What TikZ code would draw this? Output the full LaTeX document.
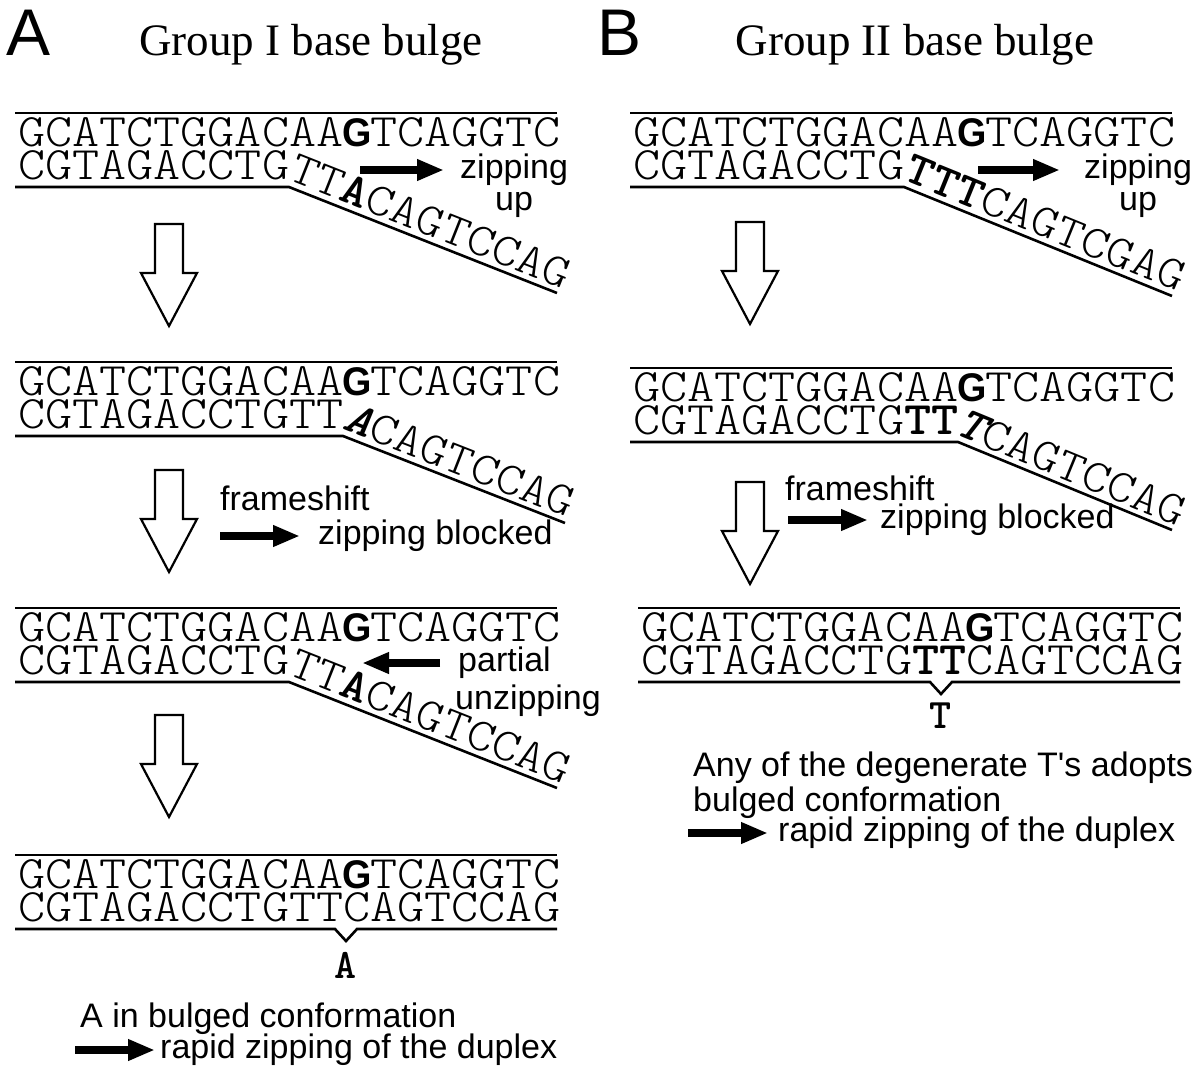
\documentclass[tikz,border=0pt]{standalone}
\usepackage{fontspec}
\usepackage{graphicx}
\setmainfont{Liberation Sans}
\newfontfamily\titlefont{Liberation Serif}
\newfontfamily\seqfont{lmmonolt10-regular}[Extension=.otf]
\newfontfamily\seqbold{lmmonolt10-bold}[Extension=.otf]
\newfontfamily\seqboldsl{lmmonolt10-bold}[Extension=.otf, FakeSlant=0.25]
\usetikzlibrary{positioning, arrows.meta}

% sequence letters, stretched to the pitch of the figure
\newcommand{\sq}[1]{\scalebox{1.11}[1]{#1}}
\newcommand{\bG}{\makebox[0.525em]{\fontsize{40}{40}\rmfamily\bfseries\scalebox{0.85}[1]{G}}}
\newcommand{\bA}{{\seqbold A}}
\newcommand{\bT}{{\seqbold T}}
\newcommand{\bAs}{{\seqboldsl A}}
\newcommand{\bTs}{{\seqboldsl T}}

\begin{document}
\begin{tikzpicture}[x=1pt, y=-1pt,
seq/.style = {inner sep=0pt, anchor=base west, font=\seqfont\fontsize{46.5}{50}\selectfont},
tail/.style = {inner xsep=0pt, inner ysep=7pt, anchor=south west, xshift=-5pt, font=\seqfont\fontsize{46.5}{50}\selectfont},
strand/.style = {line width=2.6pt, line join=miter},
fat/.style = {line width=8pt, -{Triangle[length=27pt, width=20pt]}},
lbl/.style = {inner sep=0pt, font=\fontsize{34}{38}\selectfont},
bulge/.style = {inner sep=0pt, font=\seqbold\fontsize{42}{42}\selectfont},
hollow/.style = {draw, line width=2.2pt, fill=white},
bigdown/.pic = {\draw[hollow] (-14,0) -- (14,0) -- (14,49) -- (28,49) -- (0,102) -- (-28,49) -- (-14,49) -- cycle;}]
\useasboundingbox (0,0) rectangle (1200,1072);

% headings
\node[anchor=base west, inner sep=0pt, font=\fontsize{66}{66}\selectfont] (panA) at (6,55) {A};
\node[anchor=base, inner sep=0pt, font=\titlefont\fontsize{45}{50}\selectfont] (titA) at (311,55) {Group I base bulge};
\node[anchor=base west, inner sep=0pt, font=\fontsize{66}{66}\selectfont] (panB) at (597,55) {B};
\node[anchor=base, inner sep=0pt, font=\titlefont\fontsize{45}{50}\selectfont] (titB) at (915,55) {Group II base bulge};

%%% panel A
% step 1
\draw[strand] (15,113) -- (557,113);
\node[seq] (topA1) at (18,146) {\sq{GCATCTGGACAA\bG TCAGGTC}};
\node[seq] (botA1) at (18,179) {\sq{CGTAGACCTG}};
\draw[strand] (15,187) -- (289,187) -- (557,293);
\node[tail, rotate=-21.6] (tailA1) at (289,187) {\sq{TT\bA CAGTCCAG}};
\coordinate (zA1s) at (360,170);
\coordinate (zA1e) at (444,170);
\draw[fat] (zA1s) -- (zA1e);
\node[lbl, right=16pt of zA1e] (zipA1) {zipping};
\node[lbl, below=6pt of zipA1] (upA1) {up};
\pic (dnA1) at (169,224) {bigdown};

% step 2
\draw[strand] (15,362) -- (557,362);
\node[seq] (topA2) at (18,395) {\sq{GCATCTGGACAA\bG TCAGGTC}};
\node[seq] (botA2) at (18,428) {\sq{CGTAGACCTGTT}};
\draw[strand] (15,436) -- (343,436) -- (565,523);
\node[tail, rotate=-21.4] (tailA2) at (343,436) {\sq{\bAs CAGTCCAG}};
\pic (dnA2) at (169,470) {bigdown};
\node[lbl, anchor=base west] (frA2) at (220,510) {frameshift};
\coordinate (fA2s) at (220,536);
\coordinate (fA2e) at (300,536);
\draw[fat] (fA2s) -- (fA2e);
\node[lbl, right=18pt of fA2e] (blkA2) {zipping blocked};

% step 3
\draw[strand] (15,608) -- (557,608);
\node[seq] (topA3) at (18,641) {\sq{GCATCTGGACAA\bG TCAGGTC}};
\node[seq] (botA3) at (18,674) {\sq{CGTAGACCTG}};
\draw[strand] (15,682) -- (289,682) -- (557,788);
\node[tail, rotate=-21.6] (tailA3) at (289,682) {\sq{TT\bA CAGTCCAG}};
\coordinate (uA3s) at (440,663);
\coordinate (uA3e) at (362,663);
\draw[fat] (uA3s) -- (uA3e);
\node[lbl, right=18pt of uA3s] (partA3) {partial};
\node[lbl, below=6pt of partA3.south west, anchor=north west, xshift=-3pt] (unzA3) {unzipping};
\pic (dnA3) at (169,715) {bigdown};

% step 4
\draw[strand] (15,855) -- (557,855);
\node[seq] (topA4) at (18,888) {\sq{GCATCTGGACAA\bG TCAGGTC}};
\node[seq] (botA4) at (18,921) {\sq{CGTAGACCTGTTCAGTCCAG}};
\draw[strand] (15,929) -- (335,929) -- (346,941) -- (357,929) -- (557,929);
\node[bulge] (bulA4) at (346,965) {A};
\node[lbl, anchor=base west] (txtA4) at (80,1027) {A in bulged conformation};
\coordinate (rA4s) at (75,1050);
\coordinate (rA4e) at (155,1050);
\draw[fat] (rA4s) -- (rA4e);
\node[lbl, right=5pt of rA4e] (rapA4) {rapid zipping of the duplex};

%%% panel B
% step 1
\draw[strand] (630,113) -- (1172,113);
\node[seq] (topB1) at (633,146) {\sq{GCATCTGGACAA\bG TCAGGTC}};
\node[seq] (botB1) at (633,179) {\sq{CGTAGACCTG}};
\draw[strand] (630,187) -- (904,187) -- (1172,296);
\node[tail, rotate=-22.1] (tailB1) at (904,187) {\sq{\bT\bT\bT CAGTCGAG}};
\coordinate (zB1s) at (978,170);
\coordinate (zB1e) at (1060,170);
\draw[fat] (zB1s) -- (zB1e);
\node[lbl, right=24pt of zB1e] (zipB1) {zipping};
\node[lbl, below=6pt of zipB1] (upB1) {up};
\pic (dnB1) at (750,222) {bigdown};

% step 2
\draw[strand] (630,368) -- (1172,368);
\node[seq] (topB2) at (633,401) {\sq{GCATCTGGACAA\bG TCAGGTC}};
\node[seq] (botB2) at (633,434) {\sq{CGTAGACCTG\bT\bT}};
\draw[strand] (630,442) -- (958,442) -- (1172,530);
\node[tail, rotate=-22.4, xshift=-3pt] (tailB2) at (958,442) {\sq{\bTs CAGTCCAG}};
\pic (dnB2) at (750,482) {bigdown};
\node[lbl, anchor=base west] (frB2) at (785,500) {frameshift};
\coordinate (fB2s) at (788,520);
\coordinate (fB2e) at (868,520);
\draw[fat] (fB2s) -- (fB2e);
\node[lbl, right=12pt of fB2e] (blkB2) {zipping blocked};

% step 3
\draw[strand] (638,608) -- (1180,608);
\node[seq] (topB3) at (641,641) {\sq{GCATCTGGACAA\bG TCAGGTC}};
\node[seq] (botB3) at (641,674) {\sq{CGTAGACCTG\bT\bT CAGTCCAG}};
\draw[strand] (638,682) -- (930,682) -- (941,694) -- (952,682) -- (1180,682);
\node[bulge] (bulB3) at (941,716) {T};
\node[lbl, anchor=base west] (txtB3) at (693,776) {Any of the degenerate T\textquotesingle s adopts};
\node[lbl, anchor=base west] (txtB3b) at (693,811) {bulged conformation};
\coordinate (rB3s) at (688,833);
\coordinate (rB3e) at (768,833);
\draw[fat] (rB3s) -- (rB3e);
\node[lbl, right=10pt of rB3e] (rapB3) {rapid zipping of the duplex};
\end{tikzpicture}
\end{document}
